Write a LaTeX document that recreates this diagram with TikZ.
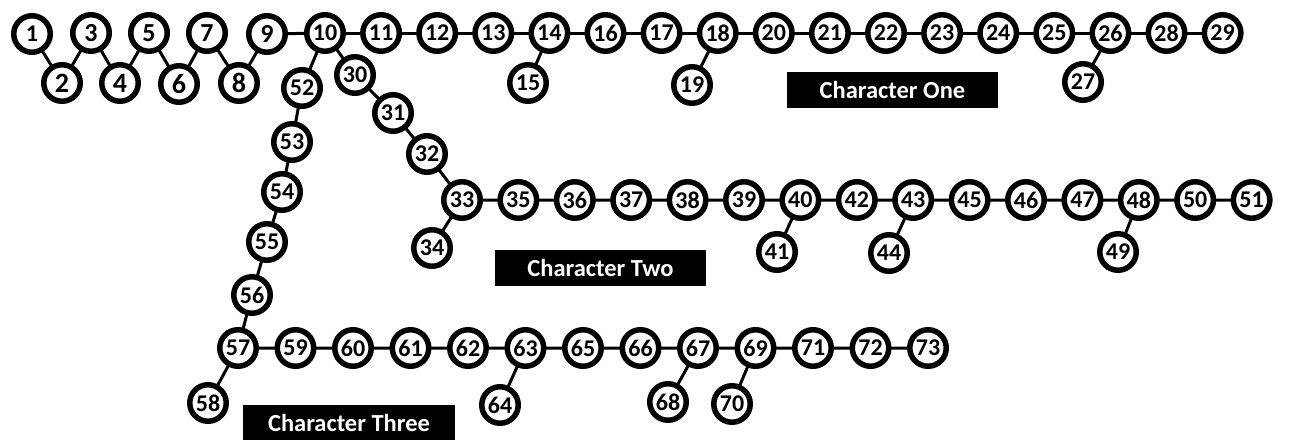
\documentclass[tikz,border=0pt]{standalone}
\usepackage{fontspec}
\setmainfont{Carlito}
\usepackage{tikz}
\usetikzlibrary{positioning,backgrounds}
\tikzset{
  bead/.style={circle,draw=black,line width=5.5pt,fill=white,
               minimum size=36.5pt,inner sep=0pt,
               font=\fontsize{24}{28}\selectfont\bfseries},
  bigbead/.style={bead,font=\fontsize{28}{32}\selectfont\bfseries},
  lnk/.style={line width=3pt,black},
  tag/.style={rectangle,fill=black,text=white,inner sep=0pt,
              minimum width=211pt,minimum height=36pt,
              font=\fontsize{24.5}{29}\selectfont\bfseries}
}

\begin{document}
\begin{tikzpicture}[x=1pt,y=-1pt]
  \useasboundingbox (0,0) rectangle (1289,439);

  % zigzag start
  \node[bead] (n1) at (32,34) {1};
  \node[bigbead] (n2) at (62,83) {2};
  \node[bead,font=\fontsize{26}{30}\selectfont\bfseries] (n3) at (91,33) {3};
  \node[bigbead] (n4) at (120,83) {4};
  \node[bead,font=\fontsize{26}{30}\selectfont\bfseries] (n5) at (149,33) {5};
  \node[bigbead] (n6) at (179,84) {6};
  \node[bead,font=\fontsize{26}{30}\selectfont\bfseries] (n7) at (207,33) {7};
  \node[bigbead] (n8) at (239,83) {8};
  \node[bead,font=\fontsize{26}{30}\selectfont\bfseries] (n9) at (267,34) {9};
  \node[bead] (n10) at (325,33) {10};

  % character one
  \node[bead,right=14.1pt of n10] (n11) {11};
  \node[bead,right=14.1pt of n11] (n12) {12};
  \node[bead,right=14.1pt of n12] (n13) {13};
  \node[bead,right=14.1pt of n13] (n14) {14};
  \node[bead,right=14.1pt of n14] (n16) {16};
  \node[bead,right=14.1pt of n16] (n17) {17};
  \node[bead,right=14.1pt of n17] (n18) {18};
  \node[bead,right=14.1pt of n18] (n20) {20};
  \node[bead,right=14.1pt of n20] (n21) {21};
  \node[bead,right=14.1pt of n21] (n22) {22};
  \node[bead,right=14.1pt of n22] (n23) {23};
  \node[bead,right=14.1pt of n23] (n24) {24};
  \node[bead,right=14.1pt of n24] (n25) {25};
  \node[bead,right=14.1pt of n25] (n26) {26};
  \node[bead,right=14.1pt of n26] (n28) {28};
  \node[bead,right=14.1pt of n28] (n29) {29};
  \node[bead] (n15) at (528,83) {15};
  \node[bead] (n19) at (692,85) {19};
  \node[bead] (n27) at (1083,82) {27};
  \node[tag] (one) at (892.5,90) {Character One};

  % character two
  \node[bead] (n30) at (355,75) {30};
  \node[bead] (n31) at (393,113) {31};
  \node[bead] (n32) at (427,154) {32};
  \node[bead] (n33) at (462,200) {33};
  \node[bead,right=14.4pt of n33] (n35) {35};
  \node[bead,right=14.4pt of n35] (n36) {36};
  \node[bead,right=14.4pt of n36] (n37) {37};
  \node[bead,right=14.4pt of n37] (n38) {38};
  \node[bead,right=14.4pt of n38] (n39) {39};
  \node[bead,right=14.4pt of n39] (n40) {40};
  \node[bead,right=14.4pt of n40] (n42) {42};
  \node[bead,right=14.4pt of n42] (n43) {43};
  \node[bead,right=14.4pt of n43] (n45) {45};
  \node[bead,right=14.4pt of n45] (n46) {46};
  \node[bead,right=14.4pt of n46] (n47) {47};
  \node[bead,right=14.4pt of n47] (n48) {48};
  \node[bead,right=14.4pt of n48] (n50) {50};
  \node[bead,right=14.4pt of n50] (n51) {51};
  \node[bead] (n34) at (432,248) {34};
  \node[bead] (n41) at (777,252) {41};
  \node[bead] (n44) at (889,253) {44};
  \node[bead] (n49) at (1118,252) {49};
  \node[tag] (two) at (600.5,267.5) {Character Two};

  % character three
  \node[bead] (n52) at (302,88) {52};
  \node[bead] (n53) at (292,142) {53};
  \node[bead] (n54) at (282,192) {54};
  \node[bead] (n55) at (267,242) {55};
  \node[bead] (n56) at (252,295) {56};
  \node[bead] (n57) at (238,348) {57};
  \node[bead,right=15.5pt of n57] (n59) {59};
  \node[bead,right=15.5pt of n59] (n60) {60};
  \node[bead,right=15.5pt of n60] (n61) {61};
  \node[bead,right=15.5pt of n61] (n62) {62};
  \node[bead,right=15.5pt of n62] (n63) {63};
  \node[bead,right=15.5pt of n63] (n65) {65};
  \node[bead,right=15.5pt of n65] (n66) {66};
  \node[bead,right=15.5pt of n66] (n67) {67};
  \node[bead,right=15.5pt of n67] (n69) {69};
  \node[bead,right=15.5pt of n69] (n71) {71};
  \node[bead,right=15.5pt of n71] (n72) {72};
  \node[bead,right=15.5pt of n72] (n73) {73};
  \node[bead] (n58) at (208,403) {58};
  \node[bead] (n64) at (500,405) {64};
  \node[bead] (n68) at (668,402) {68};
  \node[bead] (n70) at (732,404) {70};
  \node[tag,minimum width=212pt] (three) at (349,423) {Character Three};

  \begin{scope}[on background layer]
    \draw[lnk] (n1.center)--(n2.center)--(n3.center)--(n4.center)--(n5.center)
      --(n6.center)--(n7.center)--(n8.center)--(n9.center)--(n10.center);
    \draw[lnk] (n10.center)--(n29.center);
    \draw[lnk] (n14.center)--(n15.center);
    \draw[lnk] (n18.center)--(n19.center);
    \draw[lnk] (n26.center)--(n27.center);
    \draw[lnk] (n10.center)--(n30.center)--(n31.center)--(n32.center)--(n33.center)--(n51.center);
    \draw[lnk] (n33.center)--(n34.center);
    \draw[lnk] (n40.center)--(n41.center);
    \draw[lnk] (n43.center)--(n44.center);
    \draw[lnk] (n48.center)--(n49.center);
    \draw[lnk] (n10.center)--(n52.center)--(n53.center)--(n54.center)--(n55.center)
      --(n56.center)--(n57.center)--(n73.center);
    \draw[lnk] (n57.center)--(n58.center);
    \draw[lnk] (n63.center)--(n64.center);
    \draw[lnk] (n67.center)--(n68.center);
    \draw[lnk] (n69.center)--(n70.center);
  \end{scope}
\end{tikzpicture}
\end{document}
